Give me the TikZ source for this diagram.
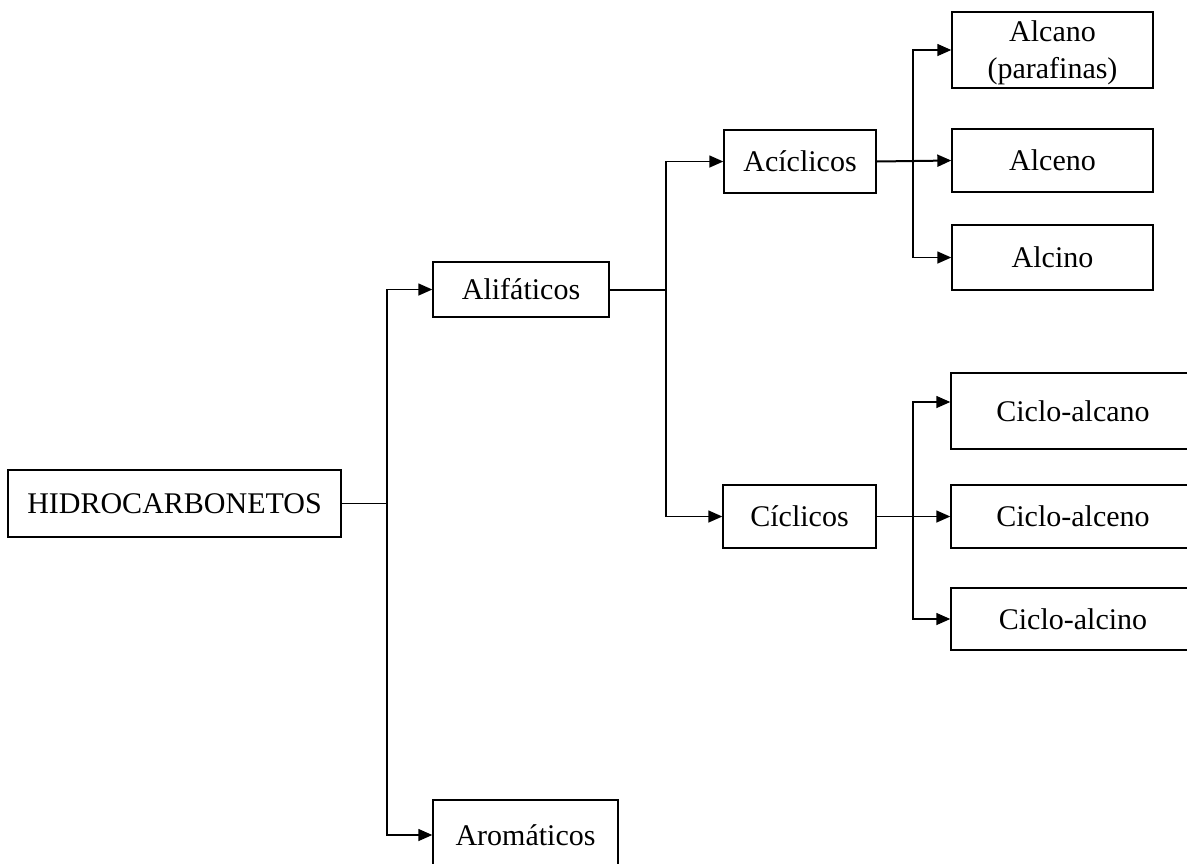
\documentclass[tikz,border=0pt]{standalone}
\usepackage{fontspec}
\setmainfont{Liberation Serif}
\usetikzlibrary{arrows.meta}

\tikzset{
  caixa/.style={draw, line width=0.7pt, inner sep=0pt, align=center,
    font=\fontsize{15}{18.5}\selectfont},
  seta/.style={line width=0.7pt, -{Triangle[length=7pt,width=6pt]}},
  linha/.style={line width=0.7pt}
}

\begin{document}
\begin{tikzpicture}[x=0.5pt,y=-0.5pt]
            \clip (0,0) rectangle (1187,863);
            \node[caixa, minimum width=166.5pt, minimum height=33.5pt] (hidro) at (174.5,503.5) {HIDROCARBONETOS};
            \node[caixa, minimum width=88pt, minimum height=27.5pt] (alif) at (521,289.5) {Alifáticos};
            \node[caixa, minimum width=92.5pt, minimum height=35pt] (arom) at (525.5,835) {Aromáticos};
            \node[caixa, minimum width=76pt, minimum height=31.5pt] (aciclicos) at (800,161.5) {Acíclicos};
            \node[caixa, minimum width=76.5pt, minimum height=31.5pt] (ciclicos) at (799.5,516.5) {Cíclicos};
            \node[caixa, minimum width=100.5pt, minimum height=38pt, text depth=-1.5pt] (alcano) at (1052.5,50) {Alcano\\(parafinas)};
            \node[caixa, minimum width=100.5pt, minimum height=31.5pt] (alceno) at (1052.5,160.5) {Alceno};
            \node[caixa, minimum width=100.5pt, minimum height=32.5pt] (alcino) at (1052.5,257.5) {Alcino};
            \node[caixa, minimum width=122pt, minimum height=38pt] (calcano) at (1073,411) {Ciclo-alcano};
            \node[caixa, minimum width=122pt, minimum height=31.5pt] (calceno) at (1073,516.5) {Ciclo-alceno};
            \node[caixa, minimum width=122pt, minimum height=31pt] (calcino) at (1073,619) {Ciclo-alcino};
            % ligacoes
            \draw[linha] (hidro.east) -- (387,503.5) coordinate (j1);
            \draw[seta] (j1) |- (alif.west);
            \draw[seta] (j1) |- (arom.west);
            \draw[linha, line width=1pt] (alif.east) -- (666,289.5) coordinate (j2);
            \draw[seta] (j2) |- (aciclicos.west);
            \draw[seta] (j2) |- (ciclicos.west);
            \draw[linha] (aciclicos.east) -- (913,161.5) coordinate (j3);
            \draw[seta] (j3) |- (alcano.west);
            \draw[seta, line width=1pt] (aciclicos.east) -- (alceno.west);
            \draw[seta] (j3) |- (alcino.west);
            \draw[linha] (ciclicos.east) -- (913,516.5) coordinate (j4);
            \draw[seta] (j4) |- ([yshift=4.5pt]calcano.west);
            \draw[seta] (ciclicos.east) -- (calceno.west);
            \draw[seta] (j4) |- (calcino.west);
\end{tikzpicture}
\end{document}
